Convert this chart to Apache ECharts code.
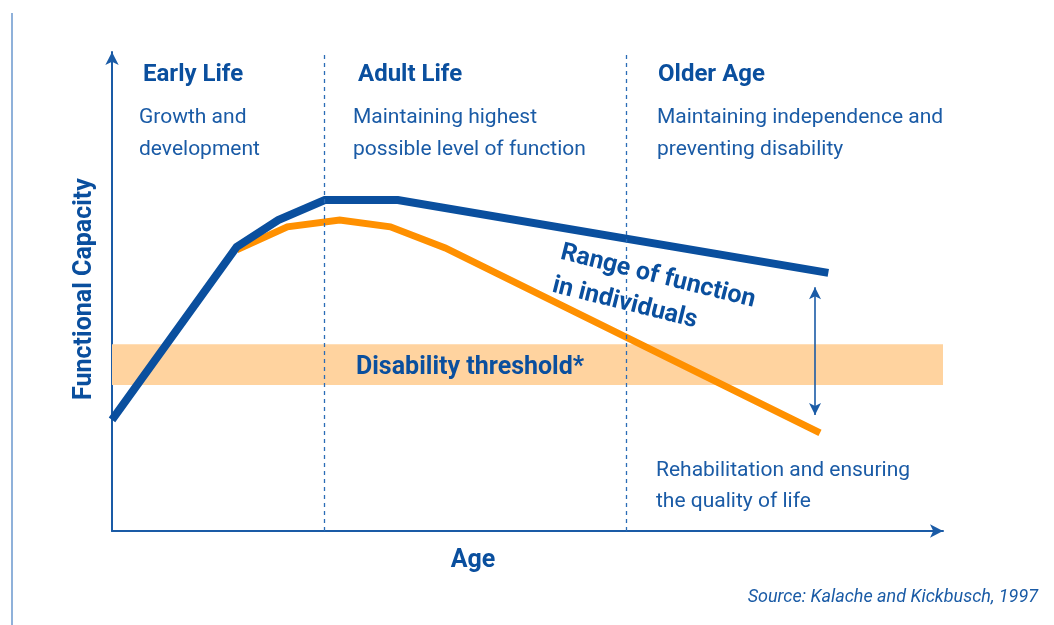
<!DOCTYPE html>
<html>
<head>
<meta charset="utf-8">
<script src="https://cdn.jsdelivr.net/npm/echarts@6/dist/echarts.min.js"></script>
<style>
  html, body { margin: 0; padding: 0; background: #fff; }
  #chart { width: 1054px; height: 625px; }
</style>
</head>
<body>
<div id="chart"></div>
<script>
// Functional capacity over the life course (schematic, axis 0-100 both ways)
const blueAge = [0, 15.0, 20.0, 25.6, 34.4, 86.2]
const blueCapacity = [23.2, 59.3, 64.9, 69.1, 69.1, 53.9]
const orangeAge = [15.0, 21.1, 27.4, 33.5, 40.1, 85.2]
const orangeCapacity = [58.7, 63.5, 64.9, 63.5, 59.1, 20.5]
const stageBounds = [25.6, 61.9]
const thresholdBand = [30.5, 39.0]
const rangeArrowAge = 84.6
const rangeArrowSpan = [50.9, 24.2]

const BLUE = '#0a4f9e'
const TEXT = '#1a5ba6'
const ORANGE = '#ff9000'
const FONT = 'Roboto, "Noto Sans", sans-serif'

const pairs = (xs, ys) => xs.map((x, i) => [x, ys[i]])

const chart = echarts.init(document.getElementById('chart'))

const txt = (x, y, text, opts = {}) => ({
  type: 'text',
  x, y,
  z: 100,
  rotation: opts.rotation || 0,
  style: {
    text,
    fill: opts.fill || TEXT,
    font: opts.font || ('21px ' + FONT),
    textAlign: opts.align || 'left',
    verticalAlign: opts.valign || 'middle',
    lineHeight: opts.lineHeight || 32
  }
})

chart.setOption({
  backgroundColor: '#fff',
  animation: false,
  grid: { left: 112, right: 111, top: 52, bottom: 94 },
  xAxis: {
    type: 'value',
    min: 0,
    max: 100,
    axisLine: { show: true, symbol: ['none', 'arrow'], symbolSize: [10, 13], lineStyle: { color: '#1a5ba6', width: 2 } },
    axisTick: { show: false },
    axisLabel: { show: false },
    splitLine: { show: false }
  },
  yAxis: {
    type: 'value',
    min: 0,
    max: 100,
    axisLine: { show: true, symbol: ['none', 'arrow'], symbolSize: [10, 13], lineStyle: { color: '#1a5ba6', width: 2 } },
    axisTick: { show: false },
    axisLabel: { show: false },
    splitLine: { show: false }
  },
  series: [
    {
      // threshold band + life stage separators
      type: 'line',
      data: [],
      z: 1,
      markArea: {
        silent: true,
        itemStyle: { color: '#ffd39f', opacity: 1 },
        data: [[{ yAxis: thresholdBand[0] }, { yAxis: thresholdBand[1] }]]
      },
      markLine: {
        silent: true,
        symbol: 'none',
        label: { show: false },
        lineStyle: { color: '#2a6cb6', width: 1.3, type: [4, 4] },
        data: stageBounds.map(v => ({ xAxis: v }))
      }
    },
    {
      // range of function arrow
      type: 'line',
      data: [],
      z: 2,
      markLine: {
        silent: true,
        symbol: ['arrow', 'arrow'],
        symbolSize: [9, 12],
        label: { show: false },
        lineStyle: { color: '#1a5ba6', width: 1.6, type: 'solid' },
        data: [[{ coord: [rangeArrowAge, rangeArrowSpan[0]] }, { coord: [rangeArrowAge, rangeArrowSpan[1]] }]]
      }
    },
    {
      name: 'lower',
      type: 'line',
      z: 3,
      data: pairs(orangeAge, orangeCapacity),
      showSymbol: false,
      lineStyle: { color: ORANGE, width: 7, cap: 'butt', join: 'miter' }
    },
    {
      name: 'upper',
      type: 'line',
      z: 4,
      data: pairs(blueAge, blueCapacity),
      showSymbol: false,
      lineStyle: { color: BLUE, width: 8, cap: 'butt', join: 'miter' }
    }
  ],
  graphic: [
    { type: 'line', shape: { x1: 12, y1: 13, x2: 12, y2: 625 }, style: { stroke: '#8fb1da', lineWidth: 2 } },
    txt(143, 75, 'Early Life', { font: 'bold 24px ' + FONT, fill: BLUE }),
    txt(358, 75, 'Adult Life', { font: 'bold 24px ' + FONT, fill: BLUE }),
    txt(658, 75, 'Older Age', { font: 'bold 24px ' + FONT, fill: BLUE }),
    txt(139, 102, 'Growth and\ndevelopment', { valign: 'top' }),
    txt(353, 102, 'Maintaining highest\npossible level of function', { valign: 'top' }),
    txt(657, 102, 'Maintaining independence and\npreventing disability', { valign: 'top' }),
    txt(356, 368, 'Disability threshold*', { font: 'bold 25px ' + FONT, fill: BLUE }),
    txt(565, 236, 'Range of function\nin individuals', { font: 'bold 25px ' + FONT, fill: BLUE, valign: 'top', rotation: -14 * Math.PI / 180, lineHeight: 34 }),
    txt(656, 455, 'Rehabilitation and ensuring\nthe quality of life', { valign: 'top', lineHeight: 31 }),
    txt(85, 289, 'Functional Capacity', { font: 'bold 25px ' + FONT, fill: BLUE, align: 'center', rotation: Math.PI / 2 }),
    txt(473, 561, 'Age', { font: 'bold 25px ' + FONT, fill: BLUE, align: 'center' }),
    txt(1038, 597, 'Source: Kalache and Kickbusch, 1997', { font: 'italic 18px ' + FONT, align: 'right' })
  ]
})

window.addEventListener('resize', () => chart.resize())
</script>
</body>
</html>
